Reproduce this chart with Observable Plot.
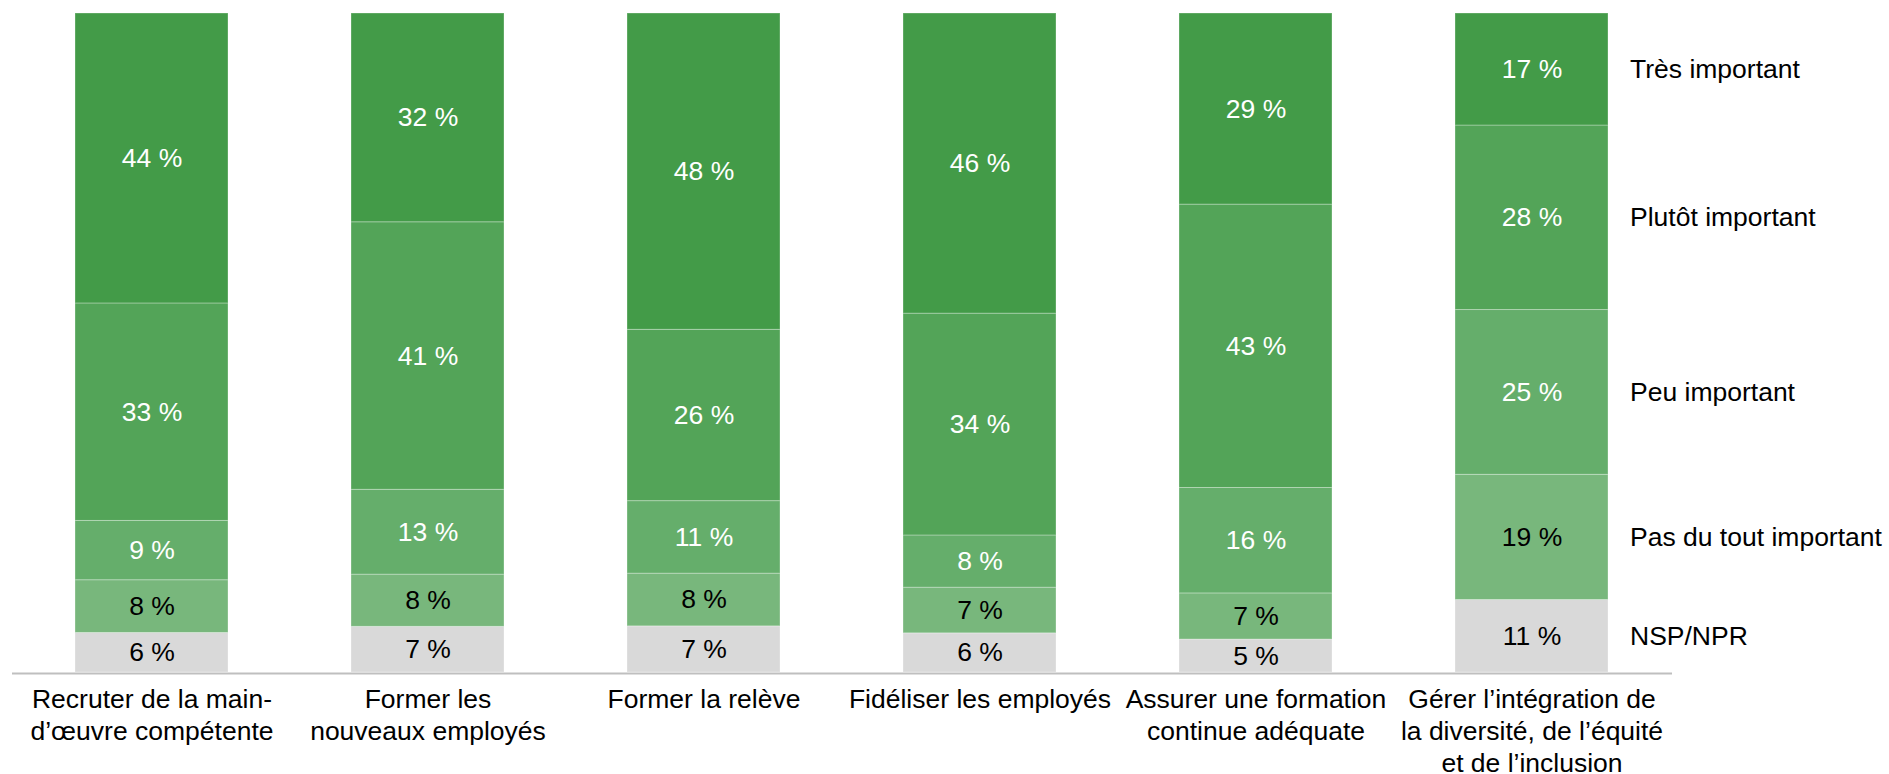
<!DOCTYPE html>
<html>
<head>
<meta charset="utf-8">
<script src="https://cdn.jsdelivr.net/npm/d3@7"></script>
<script src="https://cdn.jsdelivr.net/npm/@observablehq/plot@0.6"></script>
<style>
  html, body { margin: 0; padding: 0; background: #ffffff; }
  #chart svg { display: block; }
</style>
</head>
<body>
<div id="chart"></div>
<script>
// Categories (x) and their tick labels
const categories = ["recruter", "former_nouveaux", "former_releve", "fideliser", "formation_continue", "diversite"];
const tickLabels = [
  "Recruter de la main-\nd’œuvre compétente",
  "Former les\nnouveaux employés",
  "Former la relève",
  "Fidéliser les employés",
  "Assurer une formation\ncontinue adéquate",
  "Gérer l’intégration de\nla diversité, de l’équité\net de l’inclusion"
];

// Series (stack order bottom → top)
const seriesNames = ["NSP/NPR", "Pas du tout important", "Peu important", "Plutôt important", "Très important"];
const nspNpr          = [6, 7, 7, 6, 5, 11];
const pasDuTout       = [8, 8, 8, 7, 7, 19];
const peuImportant    = [9, 13, 11, 8, 16, 25];
const plutotImportant = [33, 41, 26, 34, 43, 28];
const tresImportant   = [44, 32, 48, 46, 29, 17];
const seriesColors = ["#d9d9d9", "#78b77c", "#65ae6b", "#53a458", "#439b48"];
const whiteLabelSeries = ["Peu important", "Plutôt important", "Très important"];

const seriesValues = [nspNpr, pasDuTout, peuImportant, plutotImportant, tresImportant];
const data = [];
seriesNames.forEach((s, i) => {
  categories.forEach((c, j) => {
    data.push({cat: c, series: s, value: seriesValues[i][j]});
  });
});
const lastCat = categories[categories.length - 1];
const font = "'Liberation Sans', Arial, sans-serif";
const fs = 26.5;

const stackOpts = {x: "cat", y: "value", z: "series", offset: "normalize"};

const chart = Plot.plot({
  width: 1889,
  height: 774,
  marginTop: 13,
  marginBottom: 102,
  marginLeft: 12,
  marginRight: 217,
  style: {fontFamily: font, fontSize: fs + "px", background: "#ffffff", color: "#000000", overflow: "visible"},
  x: {domain: categories, paddingInner: 0.445, paddingOuter: 0.2225},
  y: {domain: [0, 1], axis: null},
  color: {domain: seriesNames, range: seriesColors},
  marks: [
    Plot.barY(data, Plot.stackY({...stackOpts, fill: "series", stroke: "#ffffff", strokeOpacity: 0.3, strokeWidth: 1})),
    Plot.ruleY([0], {stroke: "#bfbfbf", strokeWidth: 2, dy: 1}),
    Plot.text(data, Plot.stackY({...stackOpts,
      text: d => whiteLabelSeries.includes(d.series) ? `${d.value} %` : null,
      fill: "#ffffff", fontSize: fs})),
    Plot.text(data, Plot.stackY({...stackOpts,
      text: d => whiteLabelSeries.includes(d.series) ? null : `${d.value} %`,
      fill: "#000000", fontSize: fs})),
    Plot.text(data, Plot.stackY({...stackOpts,
      text: d => d.cat === lastCat ? d.series : null,
      fill: "#000000", fontSize: fs, textAnchor: "start", dx: 98})),
    Plot.axisX({
      tickSize: 0,
      tickPadding: 13,
      fontSize: fs,
      lineHeight: 1.21,
      label: null,
      fill: "#000000",
      tickFormat: c => tickLabels[categories.indexOf(c)]
    })
  ]
});
document.getElementById("chart").appendChild(chart);
</script>
</body>
</html>
